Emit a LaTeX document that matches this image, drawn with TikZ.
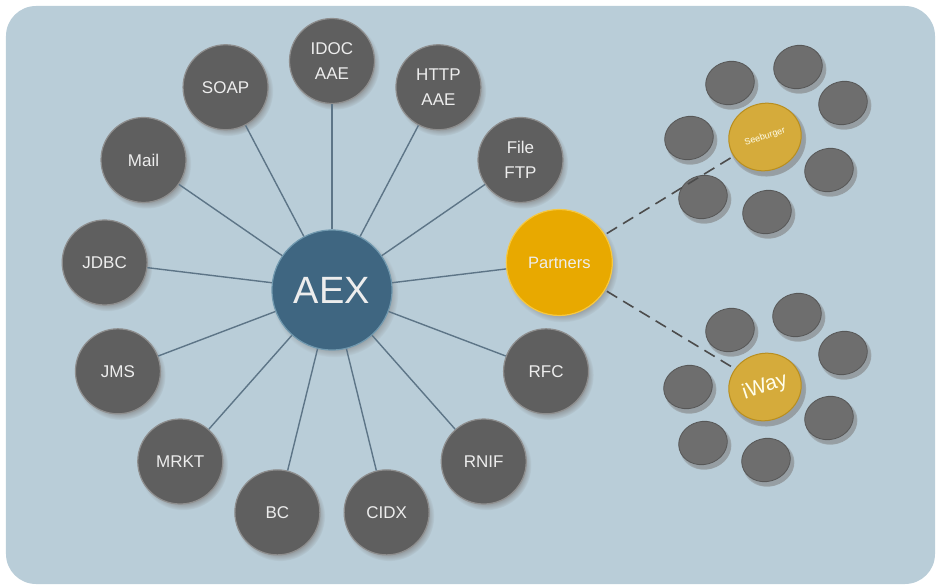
\documentclass[tikz,border=0pt]{standalone}
\usepackage{fontspec}
\setmainfont{Liberation Sans}
\usetikzlibrary{shapes.geometric, shadows}
\definecolor{panel}{HTML}{B9CDD8}
\definecolor{spokecol}{HTML}{5D7587}
\definecolor{portfill}{HTML}{5F5F5F}
\definecolor{portrim}{HTML}{8E8E8E}
\definecolor{porttext}{HTML}{EDEDED}
\definecolor{hubfill}{HTML}{3F6681}
\definecolor{hubrim}{HTML}{7199AF}
\definecolor{partnerfill}{HTML}{E8A900}
\definecolor{partnerrim}{HTML}{F6C842}
\definecolor{sealfill}{HTML}{D5AB3B}
\definecolor{sealrim}{HTML}{B88E1E}
\definecolor{pebblefill}{HTML}{6E6E6E}
\definecolor{pebblerim}{HTML}{575757}
\definecolor{dashcol}{HTML}{4C4C4C}
\tikzset{
x=1pt, y=1pt, % one unit is one point
soft shadow/.style={circular drop shadow={shadow xshift=2.5pt, shadow yshift=-3.5pt, shadow scale=1.06, opacity=0.6}}, % blurred shadow under each disc
port/.style={circle, minimum size=85pt, inner sep=0pt, fill=portfill, draw=portrim, line width=1.2pt, text=porttext, align=center, font=\fontsize{17}{25}\selectfont, soft shadow}, % the grey adapter discs
hub/.style={port, minimum size=120pt, fill=hubfill, draw=hubrim, font=\fontsize{38}{40}\selectfont}, % the big centre disc
partner/.style={port, minimum size=106pt, fill=partnerfill, draw=partnerrim, font=\fontsize{16.5}{20}\selectfont}, % the yellow disc
spoke/.style={draw=spokecol, line width=1.4pt}, % lines out of the centre
pebble/.style={ellipse, minimum width=49pt, minimum height=43pt, inner sep=0pt, rotate=15, fill=pebblefill, draw=pebblerim, line width=0.8pt, soft shadow}, % small grey stones
seal/.style={ellipse, minimum width=73pt, minimum height=67pt, inner sep=0pt, rotate=18, fill=sealfill, draw=sealrim, line width=1pt, text=white!92!yellow, soft shadow}, % the gold stone in the middle
link/.style={draw=dashcol, line width=1.6pt, dash pattern=on 12pt off 7pt}, % dashed link to a partner group
}
\begin{document}
\begin{tikzpicture}
    \useasboundingbox (-332,290) rectangle (608,-294);
    \fill[panel, rounded corners=30pt] (-326,284) rectangle (603,-294);

    \node[hub] (aex) at (0,0) {AEX};
    \node[port] (idoc) at (90:229) {IDOC\\AAE};
    \node[port] (http) at (62.3:229) {HTTP\\AAE};
    \node[port] (file) at (34.6:229) {File\\FTP};
    \node[partner] (partners) at (6.9:229) {Partners};
    \node[port] (rfc) at (-20.8:229) {RFC};
    \node[port] (rnif) at (-48.5:229) {RNIF};
    \node[port] (cidx) at (-76.2:229) {CIDX};
    \node[port] (bc) at (-103.8:229) {BC};
    \node[port] (mrkt) at (-131.5:229) {MRKT};
    \node[port] (jms) at (-159.2:229) {JMS};
    \node[port] (jdbc) at (173.1:229) {JDBC};
    \node[port] (mail) at (145.4:229) {Mail};
    \node[port] (soap) at (117.7:229) {SOAP};
    \path[spoke]
    (aex) edge (idoc)
    (aex) edge (http)
    (aex) edge (file)
    (aex) edge (partners)
    (aex) edge (rfc)
    (aex) edge (rnif)
    (aex) edge (cidx)
    (aex) edge (bc)
    (aex) edge (mrkt)
    (aex) edge (jms)
    (aex) edge (jdbc)
    (aex) edge (mail)
    (aex) edge (soap);

    % Seeburger group
    \node[seal, font=\fontsize{9}{10}\selectfont] (see) at (433,153) {Seeburger};
    \node[pebble] (see1) at ([shift={(-76,-1)}]see) {};
    \node[pebble] (see2) at ([shift={(-35,54)}]see) {};
    \node[pebble] (see3) at ([shift={(33,70)}]see) {};
    \node[pebble] (see4) at ([shift={(78,34)}]see) {};
    \node[pebble] (see5) at ([shift={(64,-33)}]see) {};
    \node[pebble] (see6) at ([shift={(2,-75)}]see) {};
    \node[pebble] (see7) at ([shift={(-62,-60)}]see) {};

    % iWay group
    \node[seal, font=\fontsize{21}{24}\selectfont] (iway) at (433,-97) {iWay};
    \node[pebble] (iway1) at ([shift={(-77,0)}]iway) {};
    \node[pebble] (iway2) at ([shift={(-35,57)}]iway) {};
    \node[pebble] (iway3) at ([shift={(32,72)}]iway) {};
    \node[pebble] (iway4) at ([shift={(78,34)}]iway) {};
    \node[pebble] (iway5) at ([shift={(64,-31)}]iway) {};
    \node[pebble] (iway6) at ([shift={(1,-73)}]iway) {};
    \node[pebble] (iway7) at ([shift={(-62,-56)}]iway) {};

    \draw[link, shorten <=2pt] (partners) -- (see);
    \draw[link, shorten <=2pt] (partners) -- (iway);
\end{tikzpicture}
\end{document}
